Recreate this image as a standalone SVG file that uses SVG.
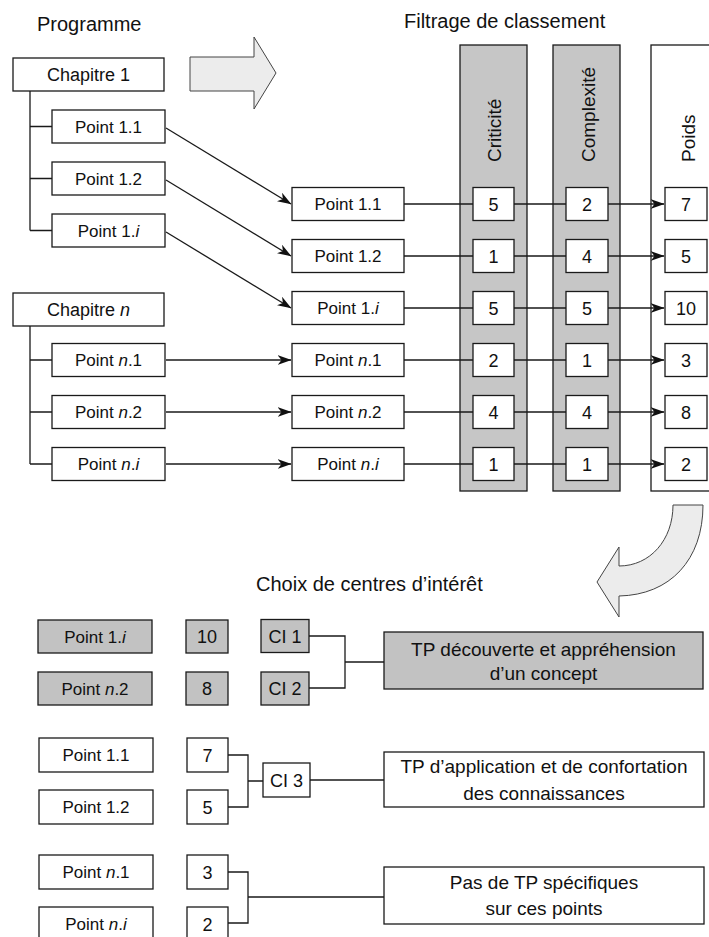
<svg xmlns="http://www.w3.org/2000/svg" width="709" height="937" viewBox="0 0 709 937">
<defs>
<style>
text{font-family:"Liberation Sans",Arial,sans-serif;fill:#111;}
.t{font-size:17px;text-anchor:middle;}
.tc{font-size:18px;text-anchor:middle;}
.tl{font-size:19px;text-anchor:middle;}
.h{font-size:20px;}
.col{font-size:19px;}
.bx{fill:#fff;stroke:#1a1a1a;stroke-width:1.3;}
.gb{fill:#c2c2c2;stroke:#1a1a1a;stroke-width:1.3;}
.gc{fill:#c6c6c6;stroke:#1a1a1a;stroke-width:1.3;}
.ln{fill:none;stroke:#1a1a1a;stroke-width:1.3;}
.ar{fill:none;stroke:#1a1a1a;stroke-width:1.3;marker-end:url(#arr);}
.big{fill:#ececec;stroke:#444;stroke-width:1;}
i,.it{font-style:italic;}
</style>
<marker id="arr" viewBox="0 0 14 10" refX="13.5" refY="5" markerWidth="14" markerHeight="10" orient="auto" markerUnits="userSpaceOnUse">
<path d="M0,0 L14,5 L0,10 L4,5 z" fill="#111"/>
</marker>
</defs>
<rect width="709" height="937" fill="#fff"/>

<!-- titles -->
<text class="h" x="37" y="31">Programme</text>
<text class="h" x="404" y="28">Filtrage de classement</text>
<text class="h" x="256" y="591">Choix de centres d’intérêt</text>

<!-- columns -->
<g id="col-criticite">
<rect class="gc" x="460" y="45" width="67" height="446"/>
<text class="col" transform="translate(501,162) rotate(-90)">Criticité</text>
</g>
<g id="col-complexite">
<rect class="gc" x="553" y="45" width="67" height="446"/>
<text class="col" transform="translate(595,162) rotate(-90)">Complexité</text>
</g>
<g id="col-poids">
<rect class="bx" x="651" y="45" width="80" height="446"/>
<text class="col" transform="translate(695,162) rotate(-90)">Poids</text>
</g>

<!-- big arrows -->
<g id="arrow-right">
<path class="big" d="M190,57 H254 V37 L276,73 L254,109 V91 H190 Z"/>
</g>
<g id="arrow-curved">
<path class="big" d="M673,505 H703 C703,560 670,595 619,596 V617 L597,582 L619,547 V566 C650,566 673,540 673,505 Z"/>
</g>

<!-- connectors -->
<g id="connectors">
<path class="ln" d="M30,91 V230.5 M30,126.5 H52 M30,178.5 H52 M30,230.5 H52"/>
<path class="ln" d="M30,326 V464 M30,360 H52 M30,412 H52 M30,464 H52"/>
<line class="ar" x1="166" y1="128" x2="291" y2="204"/>
<line class="ar" x1="166" y1="180" x2="291" y2="256"/>
<line class="ar" x1="166" y1="232" x2="291" y2="308"/>
<line class="ar" x1="166" y1="360" x2="291" y2="360"/>
<line class="ar" x1="166" y1="412" x2="291" y2="412"/>
<line class="ar" x1="166" y1="464" x2="291" y2="464"/>
<path class="ln" d="M404,204 H473 M514,204 H566 M404,256 H473 M514,256 H566 M404,308 H473 M514,308 H566 M404,360 H473 M514,360 H566 M404,412 H473 M514,412 H566 M404,464 H473 M514,464 H566"/>
<line class="ar" x1="608" y1="204" x2="664" y2="204"/>
<line class="ar" x1="608" y1="256" x2="664" y2="256"/>
<line class="ar" x1="608" y1="308" x2="664" y2="308"/>
<line class="ar" x1="608" y1="360" x2="664" y2="360"/>
<line class="ar" x1="608" y1="412" x2="664" y2="412"/>
<line class="ar" x1="608" y1="464" x2="664" y2="464"/>
<path class="ln" d="M309,636 H345 V688 H309 M345,662 H384"/>
<path class="ln" d="M228,755 H248 V807 H228 M248,781 H263 M310,780 H384"/>
<path class="ln" d="M228,872 H248 V923 H228 M248,897 H384"/>
</g>

<!-- left tree -->
<g id="chapitre-1"><rect class="bx" x="13" y="58" width="151" height="33"/><text class="tc" x="88.5" y="81">Chapitre 1</text></g>
<g id="p11-left"><rect class="bx" x="52" y="110" width="113" height="33"/><text class="t" x="108.5" y="132.5">Point 1.1</text></g>
<g id="p12-left"><rect class="bx" x="52" y="162" width="113" height="33"/><text class="t" x="108.5" y="184.5">Point 1.2</text></g>
<g id="p1i-left"><rect class="bx" x="52" y="214" width="113" height="33"/><text class="t" x="108.5" y="236.5">Point 1.<tspan class="it">i</tspan></text></g>
<g id="chapitre-n"><rect class="bx" x="13" y="293" width="151" height="33"/><text class="tc" x="88.5" y="316">Chapitre <tspan class="it">n</tspan></text></g>
<g id="pn1-left"><rect class="bx" x="52" y="343.5" width="113" height="33"/><text class="t" x="108.5" y="366">Point <tspan class="it">n</tspan>.1</text></g>
<g id="pn2-left"><rect class="bx" x="52" y="395.5" width="113" height="33"/><text class="t" x="108.5" y="418">Point <tspan class="it">n</tspan>.2</text></g>
<g id="pni-left"><rect class="bx" x="52" y="447.5" width="113" height="33"/><text class="t" x="108.5" y="470">Point <tspan class="it">n</tspan>.<tspan class="it">i</tspan></text></g>

<!-- middle column -->
<g id="p11-mid"><rect class="bx" x="292" y="187.5" width="112" height="33"/><text class="t" x="348" y="210">Point 1.1</text></g>
<g id="p12-mid"><rect class="bx" x="292" y="239.5" width="112" height="33"/><text class="t" x="348" y="262">Point 1.2</text></g>
<g id="p1i-mid"><rect class="bx" x="292" y="291.5" width="112" height="33"/><text class="t" x="348" y="314">Point 1.<tspan class="it">i</tspan></text></g>
<g id="pn1-mid"><rect class="bx" x="292" y="343.5" width="112" height="33"/><text class="t" x="348" y="366">Point <tspan class="it">n</tspan>.1</text></g>
<g id="pn2-mid"><rect class="bx" x="292" y="395.5" width="112" height="33"/><text class="t" x="348" y="418">Point <tspan class="it">n</tspan>.2</text></g>
<g id="pni-mid"><rect class="bx" x="292" y="447.5" width="112" height="33"/><text class="t" x="348" y="470">Point <tspan class="it">n</tspan>.<tspan class="it">i</tspan></text></g>

<!-- criticité values -->
<g id="c1"><rect class="bx" x="473" y="187.5" width="41" height="33"/><text class="tc" x="493.5" y="210.5">5</text></g>
<g id="c2"><rect class="bx" x="473" y="239.5" width="41" height="33"/><text class="tc" x="493.5" y="262.5">1</text></g>
<g id="c3"><rect class="bx" x="473" y="291.5" width="41" height="33"/><text class="tc" x="493.5" y="314.5">5</text></g>
<g id="c4"><rect class="bx" x="473" y="343.5" width="41" height="33"/><text class="tc" x="493.5" y="366.5">2</text></g>
<g id="c5"><rect class="bx" x="473" y="395.5" width="41" height="33"/><text class="tc" x="493.5" y="418.5">4</text></g>
<g id="c6"><rect class="bx" x="473" y="447.5" width="41" height="33"/><text class="tc" x="493.5" y="470.5">1</text></g>

<!-- complexité values -->
<g id="x1"><rect class="bx" x="566" y="187.5" width="42" height="33"/><text class="tc" x="587" y="210.5">2</text></g>
<g id="x2"><rect class="bx" x="566" y="239.5" width="42" height="33"/><text class="tc" x="587" y="262.5">4</text></g>
<g id="x3"><rect class="bx" x="566" y="291.5" width="42" height="33"/><text class="tc" x="587" y="314.5">5</text></g>
<g id="x4"><rect class="bx" x="566" y="343.5" width="42" height="33"/><text class="tc" x="587" y="366.5">1</text></g>
<g id="x5"><rect class="bx" x="566" y="395.5" width="42" height="33"/><text class="tc" x="587" y="418.5">4</text></g>
<g id="x6"><rect class="bx" x="566" y="447.5" width="42" height="33"/><text class="tc" x="587" y="470.5">1</text></g>

<!-- poids values -->
<g id="w1"><rect class="bx" x="665" y="187.5" width="42" height="33"/><text class="tc" x="686" y="210.5">7</text></g>
<g id="w2"><rect class="bx" x="665" y="239.5" width="42" height="33"/><text class="tc" x="686" y="262.5">5</text></g>
<g id="w3"><rect class="bx" x="665" y="291.5" width="42" height="33"/><text class="tc" x="686" y="314.5">10</text></g>
<g id="w4"><rect class="bx" x="665" y="343.5" width="42" height="33"/><text class="tc" x="686" y="366.5">3</text></g>
<g id="w5"><rect class="bx" x="665" y="395.5" width="42" height="33"/><text class="tc" x="686" y="418.5">8</text></g>
<g id="w6"><rect class="bx" x="665" y="447.5" width="42" height="33"/><text class="tc" x="686" y="470.5">2</text></g>

<!-- bottom: group 1 (grey) -->
<g id="b-p1i"><rect class="gb" x="38" y="620" width="114" height="33"/><text class="t" x="95" y="642.5">Point 1.<tspan class="it">i</tspan></text></g>
<g id="b-10"><rect class="gb" x="186" y="620" width="42" height="33"/><text class="tc" x="207" y="643">10</text></g>
<g id="b-ci1"><rect class="gb" x="261" y="619.5" width="48" height="33"/><text class="tc" x="285" y="642.5">CI 1</text></g>
<g id="b-pn2"><rect class="gb" x="38" y="672" width="114" height="33"/><text class="t" x="95" y="694.5">Point <tspan class="it">n</tspan>.2</text></g>
<g id="b-8"><rect class="gb" x="186" y="672" width="42" height="33"/><text class="tc" x="207" y="695">8</text></g>
<g id="b-ci2"><rect class="gb" x="261" y="672" width="48" height="33"/><text class="tc" x="285" y="695">CI 2</text></g>
<g id="b-tp1"><rect class="gb" x="384" y="632" width="319" height="57"/><text class="tl" x="543.5" y="656">TP découverte et appréhension</text><text class="tl" x="543.5" y="680">d’un concept</text></g>

<!-- bottom: group 2 -->
<g id="b-p11"><rect class="bx" x="39" y="738" width="114" height="34"/><text class="t" x="96" y="761">Point 1.1</text></g>
<g id="b-7"><rect class="bx" x="187" y="738" width="41" height="34"/><text class="tc" x="207.5" y="761.5">7</text></g>
<g id="b-p12"><rect class="bx" x="39" y="790" width="114" height="34"/><text class="t" x="96" y="813">Point 1.2</text></g>
<g id="b-5"><rect class="bx" x="187" y="790" width="41" height="34"/><text class="tc" x="207.5" y="813.5">5</text></g>
<g id="b-ci3"><rect class="bx" x="263" y="763" width="47" height="34"/><text class="tc" x="286.5" y="786.5">CI 3</text></g>
<g id="b-tp2"><rect class="bx" x="384" y="752" width="320" height="55"/><text class="tl" x="544" y="773">TP d’application et de confortation</text><text class="tl" x="544" y="800">des connaissances</text></g>

<!-- bottom: group 3 -->
<g id="b-pn1"><rect class="bx" x="39" y="855" width="114" height="34"/><text class="t" x="96" y="878">Point <tspan class="it">n</tspan>.1</text></g>
<g id="b-3"><rect class="bx" x="187" y="855" width="41" height="34"/><text class="tc" x="207.5" y="878.5">3</text></g>
<g id="b-pni"><rect class="bx" x="39" y="907" width="114" height="34"/><text class="t" x="96" y="930">Point <tspan class="it">n</tspan>.<tspan class="it">i</tspan></text></g>
<g id="b-2"><rect class="bx" x="187" y="907" width="41" height="34"/><text class="tc" x="207.5" y="930.5">2</text></g>
<g id="b-tp3"><rect class="bx" x="384" y="867" width="320" height="57"/><text class="tl" x="544" y="889">Pas de TP spécifiques</text><text class="tl" x="544" y="915">sur ces points</text></g>
</svg>
